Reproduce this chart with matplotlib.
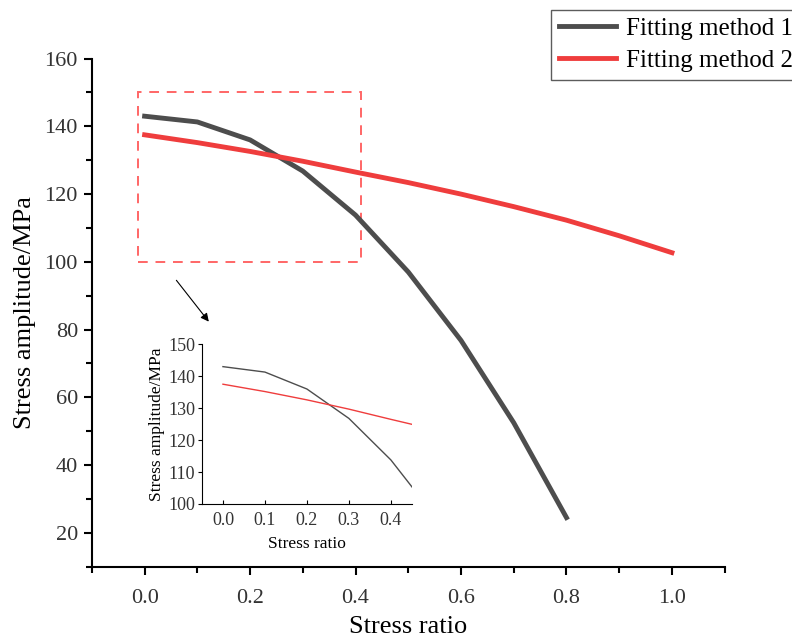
import numpy as np
import matplotlib
matplotlib.use('Agg')
import matplotlib.pyplot as plt
from matplotlib.patches import Rectangle
from matplotlib.ticker import MultipleLocator

plt.rcParams['font.family'] = ['Liberation Serif', 'DejaVu Serif']

# stress ratio vs stress amplitude for both fitting methods
ratio_1 = [0.0, 0.1, 0.2, 0.3, 0.4, 0.5, 0.6, 0.7, 0.8]
amp_1 = [143.0, 141.3, 136.0, 126.8, 113.8, 97.0, 76.8, 52.5, 24.5]
ratio_2 = [0.0, 0.1, 0.2, 0.3, 0.4, 0.5, 0.6, 0.7, 0.8, 0.9, 1.0]
amp_2 = [137.5, 135.2, 132.6, 129.7, 126.5, 123.4, 120.0, 116.3, 112.3, 107.7, 102.7]

labels = ['Fitting method 1', 'Fitting method 2']
c_black = '#4d4d4d'
c_red = '#ef3d3d'
tick_col = '#333333'

fig = plt.figure(figsize=(7.92, 6.44), dpi=100)
ax = fig.add_axes([0.116, 0.12, 0.799, 0.789])

ax.plot(ratio_1, amp_1, color=c_black, lw=3.5, label=labels[0])
ax.plot(ratio_2, amp_2, color=c_red, lw=3.5, label=labels[1])

ax.set_xlim(-0.1, 1.1)
ax.set_ylim(10, 160)
ax.xaxis.set_minor_locator(MultipleLocator(0.1))
ax.yaxis.set_minor_locator(MultipleLocator(10))
ax.set_yticks(range(20, 161, 20))
ax.set_xticks([0.0, 0.2, 0.4, 0.6, 0.8, 1.0])
ax.set_xticklabels(['0.0', '0.2', '0.4', '0.6', '0.8', '1.0'])
ax.tick_params(which='major', direction='out', length=6, width=1.5,
               labelsize=16, labelcolor=tick_col)
ax.tick_params(which='minor', direction='out', length=4, width=1.5)
ax.tick_params(axis='x', which='major', pad=10)
ax.tick_params(axis='y', which='major', pad=4)
for s in ['top', 'right']:
    ax.spines[s].set_visible(False)
for s in ['left', 'bottom']:
    ax.spines[s].set_linewidth(1.5)

ax.set_xlabel('Stress ratio', fontsize=19, labelpad=6)
ax.set_ylabel('Stress amplitude/MPa', fontsize=19, labelpad=6)

# zoomed region marker and arrow pointing at the inset
ax.add_patch(Rectangle((-0.013, 100), 0.423, 50, fill=False,
                       edgecolor='#ff6666', lw=1.4, ls=(0, (5, 4))))
ax.annotate('', xy=(0.125, 81.7), xytext=(0.057, 95.2),
            arrowprops=dict(arrowstyle='-|>', color='black', lw=0.8,
                            mutation_scale=12))

leg = fig.legend(loc='upper left', bbox_to_anchor=(551 / 792, 1 - 10 / 644),
                 borderaxespad=0, fontsize=18, frameon=True, fancybox=False,
                 handlelength=2.3, borderpad=0.3, labelspacing=0.38,
                 handletextpad=0.4)
leg.get_frame().set_edgecolor('#333333')
leg.get_frame().set_linewidth(1.0)

# inset
ins = fig.add_axes([0.255, 0.2174, 0.265, 0.248])
ins.plot(ratio_1, amp_1, color=c_black, lw=1.0)
ins.plot(ratio_2, amp_2, color=c_red, lw=1.0)
ins.set_xlim(-0.05, 0.45)
ins.set_ylim(100, 150)
ins.set_xticks([0.0, 0.1, 0.2, 0.3, 0.4])
ins.set_xticklabels(['0.0', '0.1', '0.2', '0.3', '0.4'])
ins.set_yticks(range(100, 151, 10))
ins.tick_params(axis='x', direction='in', length=3, labelsize=13,
                labelcolor=tick_col, pad=6)
ins.tick_params(axis='y', direction='out', length=3, labelsize=13,
                labelcolor=tick_col, pad=2)
for s in ['top', 'right']:
    ins.spines[s].set_visible(False)
ins.set_xlabel('Stress ratio', fontsize=12.5, labelpad=5)
ins.set_ylabel('Stress amplitude/MPa', fontsize=12.5, labelpad=2)

fig.savefig('out.png', dpi=100)
